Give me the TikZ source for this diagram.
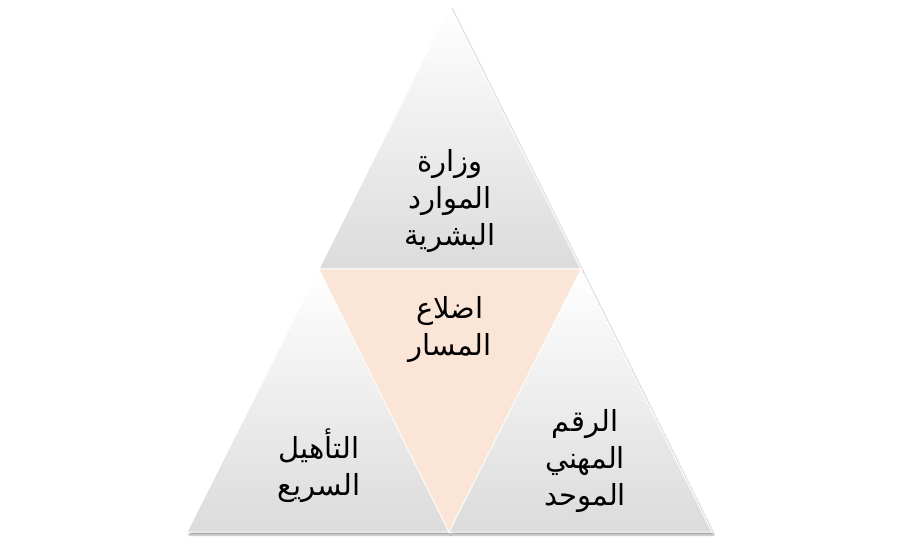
\documentclass[tikz,border=0pt]{standalone}
\usepackage{fontspec}
\newfontfamily\arabicfont[Script=Arabic]{DejaVu Sans}
\TeXXeTstate=1
\usetikzlibrary{shadows.blur}

\definecolor{peach}{HTML}{FBE5D6}
\newcommand{\ar}[1]{\beginR #1\endR}

\begin{document}
\begin{tikzpicture}[x=1pt, y=-1pt,
        % styles
        corner/.style = {
                draw=white, line width=1pt, shading=axis,
                top color=white, bottom color=black!14,
                blur shadow={shadow xshift=2pt, shadow yshift=-3pt,
                        shadow blur steps=6, shadow opacity=35}
            },
        middle/.style = {
                fill=peach, draw=white, line width=0.6pt
            },
        label/.style = {
                font=\arabicfont\fontsize{29}{37}\selectfont,
                align=center, text=black, inner sep=0pt
            }]

    \useasboundingbox (0,0) rectangle (900,553);

    % vertices
    \coordinate (apex)  at (450,6);
    \coordinate (left)  at (187,532);
    \coordinate (right) at (712,532);
    \coordinate (midL)  at (319,269);
    \coordinate (midR)  at (581,269);
    \coordinate (midB)  at (449,532);

    % triangles
    \path [corner] (apex) -- (midR) -- (midL) -- cycle;
    \path [corner] (midL) -- (midB) -- (left) -- cycle;
    \path [corner] (midR) -- (right) -- (midB) -- cycle;
    \path [middle] (midL) -- (midR) -- (midB) -- cycle;

    % texts
    \node (ministry) [label] at (450,201) {\ar{وزارة}\\\ar{الموارد}\\\ar{البشرية}};
    \node (sides)    [label] at (450,330) {\ar{اضلاع}\\\ar{المسار}};
    \node (rehab)    [label] at (319,466) {\ar{التأهيل}\\\ar{السريع}};
    \node (number)   [label] at (585,461) {\ar{الرقم}\\\ar{المهني}\\\ar{الموحد}};
\end{tikzpicture}
\end{document}
